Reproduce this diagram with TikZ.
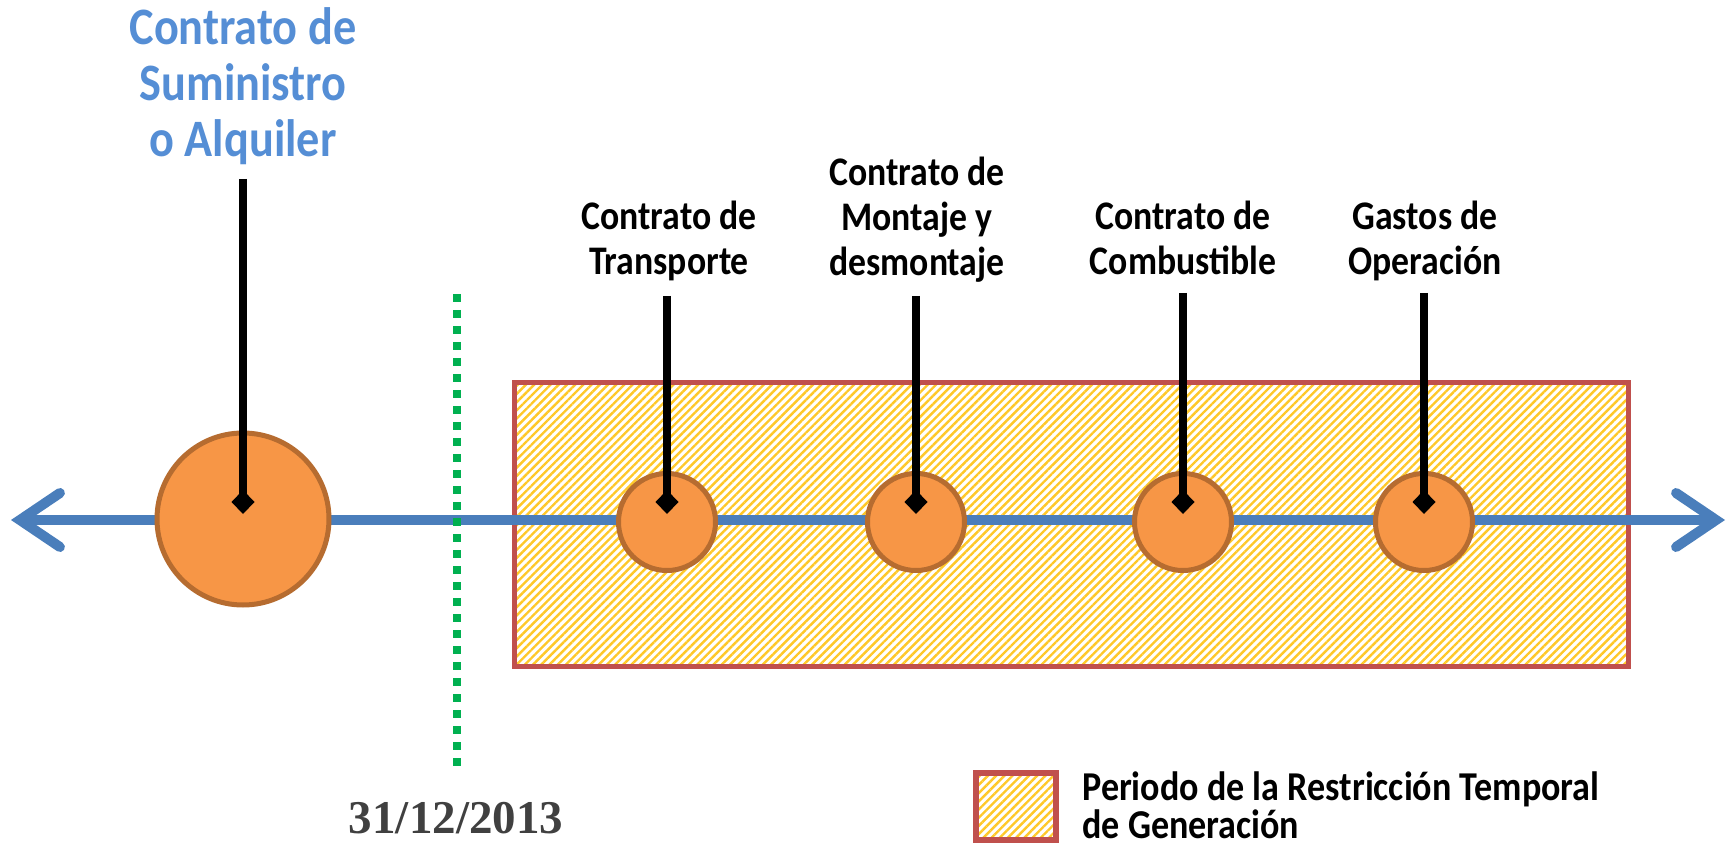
\documentclass[tikz,border=0pt]{standalone}
\usepackage{fontspec}
\newfontfamily\calib{Carlito}[FakeStretch=0.88]
\newfontfamily\dateser{Liberation Serif}
\usetikzlibrary{arrows.meta,patterns.meta}
\definecolor{bluetxt}{RGB}{85,142,213}
\definecolor{tline}{RGB}{74,126,187}
\definecolor{orfill}{RGB}{247,150,70}
\definecolor{ordraw}{RGB}{182,108,48}
\definecolor{perred}{RGB}{192,80,77}
\definecolor{hatch}{RGB}{255,200,40}
\definecolor{divgreen}{RGB}{0,176,80}
\definecolor{dategray}{RGB}{64,64,64}
\begin{document}
\begin{tikzpicture}[x=0.5pt,y=-0.5pt,
  period/.style={rectangle, draw=perred, inner sep=0pt,
    pattern={Lines[angle=45,distance=2.9pt,line width=1.2pt]}, pattern color=hatch},
  barb/.tip={Straight Barb[length=20pt,width=27pt,line width=5pt,line cap=round,line join=miter]},
  timeline/.style={draw=tline, line width=5pt, barb-barb},
  event/.style={circle, fill=orfill, draw=ordraw, line width=2.5pt, inner sep=0pt},
  pin/.style={draw=black, line width=4pt, -{Diamond[length=12pt,width=11.5pt,line width=0pt]}},
  divider/.style={draw=divgreen, line width=4pt, dash pattern=on 4pt off 4pt},
  toplbl/.style={font=\calib\bfseries\fontsize{26.3pt}{28pt}\selectfont, text=bluetxt, align=center, inner sep=0pt},
  evlbl/.style={font=\calib\bfseries\fontsize{20.3pt}{22.5pt}\selectfont, text=black, align=center, inner sep=0pt},
  leglbl/.style={font=\calib\bfseries\fontsize{20.5pt}{19pt}\selectfont, text=black, align=left, inner sep=0pt},
  datelbl/.style={font=\dateser\bfseries\fontsize{23.5pt}{26pt}\selectfont, text=dategray, inner sep=0pt}]
\useasboundingbox (0,0) rectangle (1731,845);
% restriction period
\node[period, line width=2.5pt, minimum width=557pt, minimum height=141.5pt] (per) at (1071,524.5) {};
% timeline
\coordinate (L) at (11,520);
\coordinate (R) at (1725,520);
\draw[timeline] (L) -- (R);
% divider
\coordinate (g1) at (457,294);
\coordinate (g2) at (457,768);
\draw[divider] (g1) -- (g2);
% events
\node[event, minimum size=86pt] (c0) at (243,519) {};
\node[event, minimum size=48.5pt] (c1) at (667,522) {};
\node[event, minimum size=48.5pt] (c2) at (916,522) {};
\node[event, minimum size=48.5pt] (c3) at (1183,522) {};
\node[event, minimum size=48.5pt] (c4) at (1424,522) {};
% pins
\coordinate (t0) at (243,179);  \coordinate (d0) at (243,514);
\coordinate (t1) at (667,296);  \coordinate (d1) at (667,514);
\coordinate (t2) at (916,296);  \coordinate (d2) at (916,514);
\coordinate (t3) at (1183,293); \coordinate (d3) at (1183,514);
\coordinate (t4) at (1424,293); \coordinate (d4) at (1424,514);
\foreach \i in {0,...,4} {\draw[pin] (t\i) -- (d\i);}
% labels (base = baseline of last line)
\node[toplbl, anchor=base] (l0) at (243,157) {Contrato de\\Suministro\\o Alquiler};
\node[evlbl, anchor=base] (l1) at (669,275) {Contrato de\\Transporte};
\node[evlbl, anchor=base] (l2) at (917,276) {Contrato de\\Montaje y\\desmontaje};
\node[evlbl, anchor=base] (l3) at (1183,275) {Contrato de\\Combustible};
\node[evlbl, anchor=base] (l4) at (1425,275) {Gastos de\\Operación};
% date
\node[datelbl, anchor=base] (date) at (456,833) {31/12/2013};
% legend
\node[period, line width=3pt, minimum width=40pt, minimum height=33.5pt] (legbox) at (1016,806.5) {};
\node[leglbl, anchor=base west] (legtxt) at (1082,838) {Periodo de la Restricción Temporal\\de Generación};
\end{tikzpicture}
\end{document}
